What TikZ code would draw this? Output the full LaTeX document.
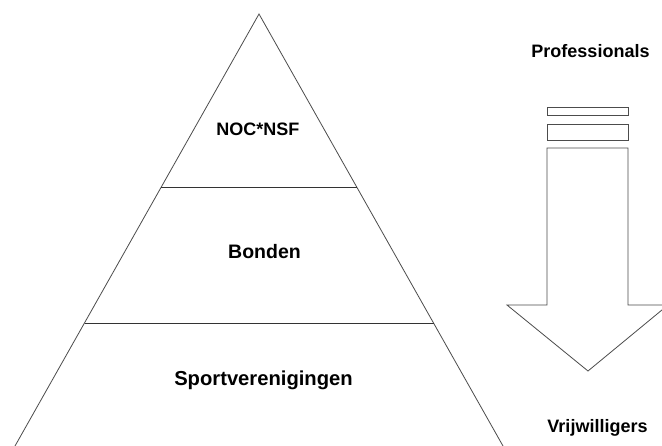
\documentclass[tikz,border=0pt]{standalone}
\usepackage{fontspec}
\setmainfont{Liberation Sans}
\begin{document}
\begin{tikzpicture}[x=1pt,y=-1pt,
  edge/.style={draw=black!70,line width=0.8pt},
  lbl/.style={anchor=base,inner sep=0pt,font=\fontsize{18}{20}\selectfont\bfseries}]
\useasboundingbox[fill=white] (0,0) rectangle (662,446);
\begin{scope}
\clip (0,0) rectangle (662,446);
% pyramid
\draw[edge] (15,446) -- (259,14) -- (503,446);
\draw[edge,draw=black!80] (161,187) -- (357,187);
\draw[edge,draw=black!80] (84.5,323) -- (433.5,323);
% arrow
\draw[edge] (547,107) rectangle (628,115);
\draw[edge] (547,124) rectangle (628,140);
\draw[edge] (547,148) -- (628,148) -- (628,305) -- (668,305) -- (588,371) -- (507,305) -- (547,305) -- cycle;
\end{scope}
\node[lbl] (noc) at (258,135.7) {NOC*NSF};
\node[lbl,font=\fontsize{19.5}{21}\selectfont\bfseries] (bonden) at (264.5,259) {Bonden};
\node[lbl,font=\fontsize{20.2}{22}\selectfont\bfseries] (sport) at (263.5,386) {Sportverenigingen};
\node[lbl] (prof) at (590.5,57.7) {Professionals};
\node[lbl] (vrij) at (597.5,433) {Vrijwilligers};
\end{tikzpicture}
\end{document}
